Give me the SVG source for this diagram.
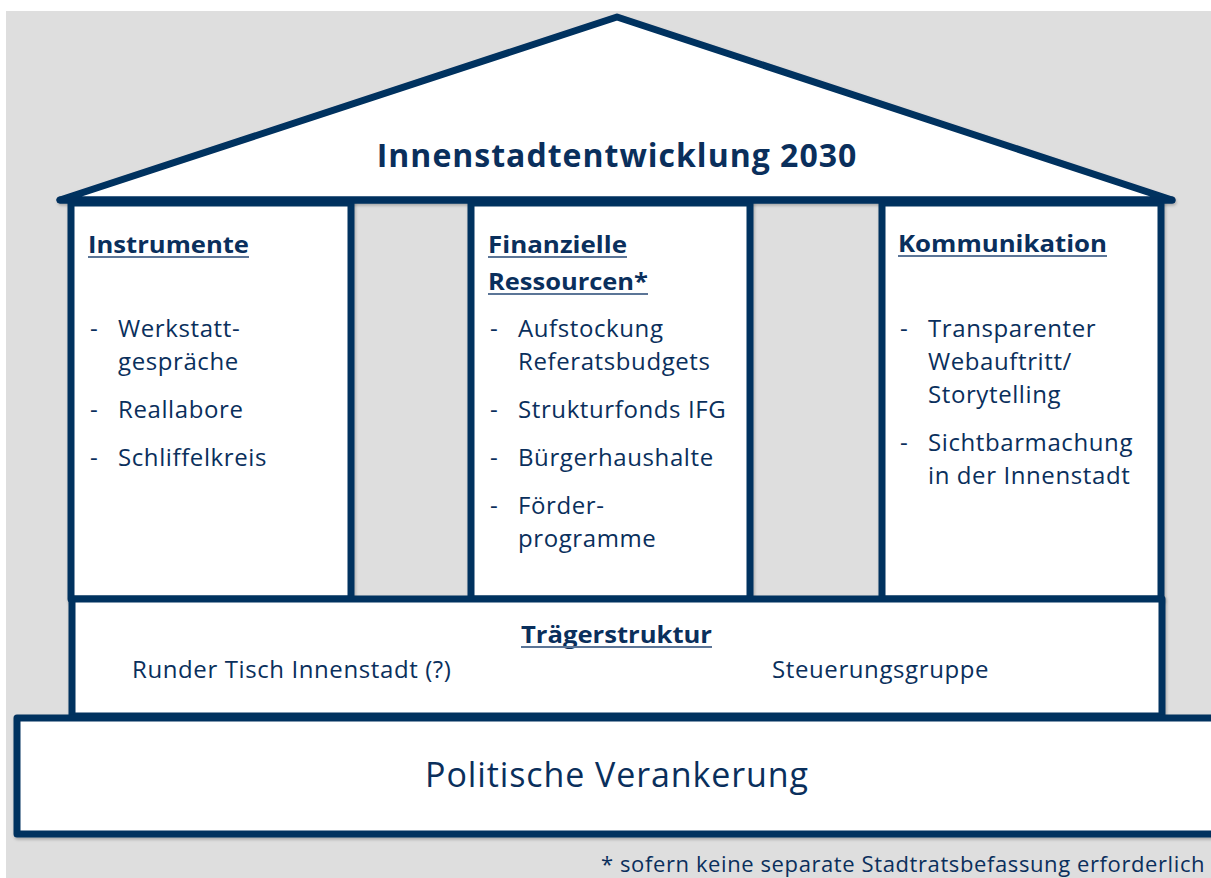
<svg xmlns="http://www.w3.org/2000/svg" width="1211" height="878" viewBox="0 0 1211 878">
  <defs>
    <filter id="shadow" x="-5%" y="-5%" width="110%" height="115%">
      <feDropShadow dx="1" dy="2" stdDeviation="1.5" flood-color="#000" flood-opacity="0.25"/>
    </filter>
    <style>
      .frame { fill: #ffffff; stroke: #00305e; stroke-width: 7; stroke-linejoin: round; stroke-linecap: round; filter: url(#shadow); }
      .txt { font-family: "Open Sans", Lato, "Liberation Sans", sans-serif; fill: #0a2f5c; }
      .head { font-weight: 700; font-size: 23px; }
      .item { font-size: 24px; letter-spacing: 0.6px; }
      .ul { stroke: #5b7597; stroke-width: 2; }
    </style>
  </defs>

  <!-- page background -->
  <rect x="0" y="0" width="1211" height="878" fill="#ffffff"/>
  <rect x="6" y="11" width="1205" height="867" fill="#dedede"/>

  <!-- roof -->
  <g id="roof">
    <polygon class="frame" points="617,17 60,200 1172,200"/>
    <text class="txt" x="617" y="167" text-anchor="middle" font-size="32" font-weight="700" letter-spacing="1">Innenstadtentwicklung 2030</text>
  </g>

  <!-- pillar: Instrumente -->
  <g id="instrumente">
    <rect class="frame" x="71" y="203" width="280" height="396"/>
    <text class="txt head" x="88" y="253" textLength="161" lengthAdjust="spacingAndGlyphs">Instrumente</text>
    <line class="ul" x1="88" y1="257" x2="249" y2="257"/>
    <g class="txt item">
      <text x="90" y="337">-</text><text x="118" y="337">Werkstatt-</text>
      <text x="118" y="370">gespräche</text>
      <text x="90" y="418">-</text><text x="118" y="418">Reallabore</text>
      <text x="90" y="466">-</text><text x="118" y="466">Schliffelkreis</text>
    </g>
  </g>

  <!-- pillar: Finanzielle Ressourcen -->
  <g id="finanzen">
    <rect class="frame" x="471" y="203" width="279" height="396"/>
    <text class="txt head" x="488" y="253" textLength="139" lengthAdjust="spacingAndGlyphs">Finanzielle</text>
    <line class="ul" x1="488" y1="257" x2="627" y2="257"/>
    <text class="txt head" x="488" y="290" textLength="160" lengthAdjust="spacingAndGlyphs">Ressourcen*</text>
    <line class="ul" x1="488" y1="294" x2="648" y2="294"/>
    <g class="txt item">
      <text x="490" y="337">-</text><text x="518" y="337">Aufstockung</text>
      <text x="518" y="370">Referatsbudgets</text>
      <text x="490" y="418">-</text><text x="518" y="418">Strukturfonds IFG</text>
      <text x="490" y="466">-</text><text x="518" y="466">Bürgerhaushalte</text>
      <text x="490" y="514">-</text><text x="518" y="514">Förder-</text>
      <text x="518" y="547">programme</text>
    </g>
  </g>

  <!-- pillar: Kommunikation -->
  <g id="kommunikation">
    <rect class="frame" x="882" y="203" width="279" height="396"/>
    <text class="txt head" x="898" y="252" textLength="209" lengthAdjust="spacingAndGlyphs">Kommunikation</text>
    <line class="ul" x1="898" y1="256" x2="1107" y2="256"/>
    <g class="txt item">
      <text x="900" y="337">-</text><text x="928" y="337">Transparenter</text>
      <text x="928" y="370">Webauftritt/</text>
      <text x="928" y="403">Storytelling</text>
      <text x="900" y="451">-</text><text x="928" y="451">Sichtbarmachung</text>
      <text x="928" y="484">in der Innenstadt</text>
    </g>
  </g>

  <!-- roof base line drawn over pillar tops -->
  <g id="connectors">
    <line x1="60" y1="200" x2="1172" y2="200" stroke="#00305e" stroke-width="7" stroke-linecap="round"/>
  </g>

  <!-- Trägerstruktur -->
  <g id="traegerstruktur">
    <rect class="frame" x="72" y="599" width="1090" height="117"/>
    <text class="txt head" x="521" y="643" textLength="191" lengthAdjust="spacingAndGlyphs">Trägerstruktur</text>
    <line class="ul" x1="521" y1="647" x2="712" y2="647"/>
    <text class="txt item" x="132" y="678">Runder Tisch Innenstadt (?)</text>
    <text class="txt item" x="772" y="678">Steuerungsgruppe</text>
  </g>

  <!-- Politische Verankerung -->
  <g id="verankerung">
    <rect class="frame" x="17" y="718" width="1210" height="116"/>
    <text class="txt" x="617" y="787" text-anchor="middle" font-size="34" letter-spacing="0.9">Politische Verankerung</text>
  </g>

  <text class="txt" x="601" y="872" font-size="22" letter-spacing="0.6">* sofern keine separate Stadtratsbefassung erforderlich</text>
</svg>
